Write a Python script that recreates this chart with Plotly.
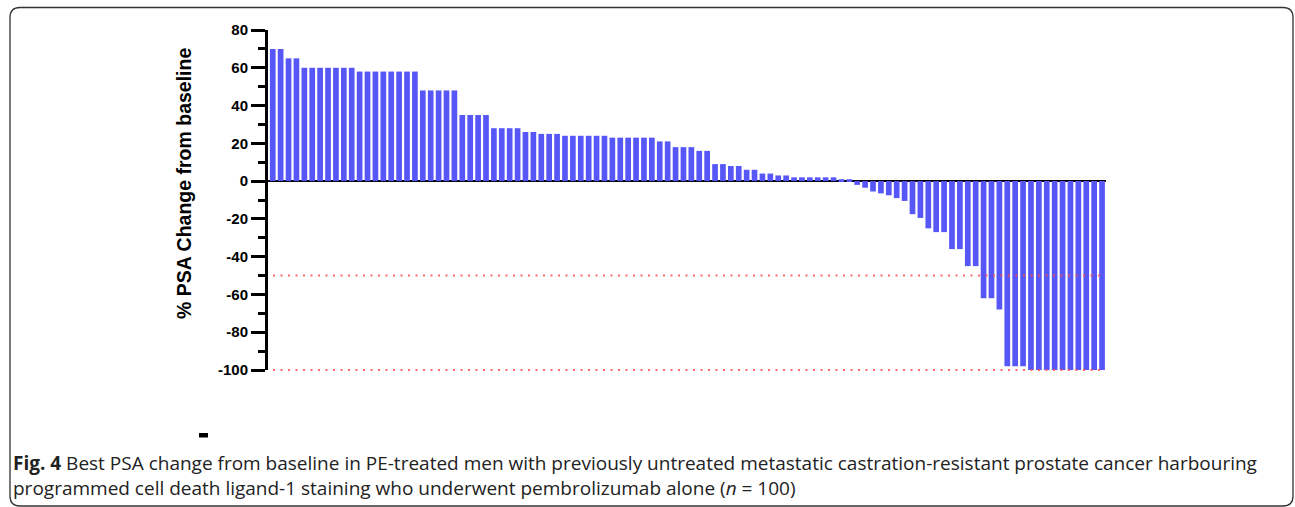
import plotly.graph_objects as go

# ---- data ----
positive_changes = [70, 70, 65, 65,
                    60, 60, 60, 60, 60, 60, 60,
                    58, 58, 58, 58, 58, 58, 58, 58,
                    48, 48, 48, 48, 48,
                    35, 35, 35, 35,
                    28, 28, 28, 28,
                    26, 26,
                    25, 25, 25,
                    24, 24, 24, 24, 24, 24,
                    23, 23, 23, 23, 23, 23,
                    21, 21,
                    18, 18, 18,
                    16, 16,
                    9, 9, 8, 8, 6, 6, 4, 4, 3, 3,
                    2, 2, 2, 2, 2, 2,
                    1, 1]
negative_changes = [-2, -3.5, -5.5, -6.5, -7.5, -9, -10.5, -17.5, -19.5, -25,
                    -27, -27, -36, -36, -45, -45, -62, -62, -68,
                    -98, -98, -98,
                    -100, -100, -100, -100, -100, -100, -100, -100, -100, -100]
psa_change = positive_changes + negative_changes
patients = list(range(len(psa_change)))

y_range = [-100, 80]
ytick_vals = [-100, -80, -60, -40, -20, 0, 20, 40, 60, 80]
ytick_text = ["-100", "-80", "-60", "-40", "-20", "0", "20", "40", "60", "80"]
threshold_lines = [-50, -100]

y_title = "% PSA Change from baseline"
caption_line1 = ("<b>Fig. 4</b> Best PSA change from baseline in PE-treated men with previously "
                 "untreated metastatic castration-resistant prostate cancer harbouring")
caption_line2 = ("programmed cell death ligand-1 staining who underwent pembrolizumab alone "
                 "(<i>n</i> = 100)")

# ---- layout geometry ----
W, H = 1295, 507
ML, MR, MT, MB = 268, 189, 30, 137
PW, PH = W - ML - MR, H - MT - MB


def px(x):
    return (x - ML) / PW


def py(y):
    return (H - MB - y) / PH


def value_to_paper(v):
    return (v - y_range[0]) / (y_range[1] - y_range[0])


fig = go.Figure()
fig.add_trace(go.Bar(x=patients, y=psa_change, marker=dict(color="#5757F7", line=dict(width=0)),
                     hoverinfo="y"))

shapes = []
for v in threshold_lines:
    yp = value_to_paper(v)
    shapes.append(dict(type="line", xref="paper", yref="paper", x0=px(273), x1=px(1103),
                       y0=yp, y1=yp,
                       line=dict(color="#FF4F4F", width=2, dash="2px,5.5px"), layer="above",
                       opacity=0.85))

# rounded border box
x0b, y0b, x1b, y1b, r = 10, 7.5, 1293, 506, 10
path = (f"M {px(x0b + r)},{py(y0b)} L {px(x1b - r)},{py(y0b)} "
        f"Q {px(x1b)},{py(y0b)} {px(x1b)},{py(y0b + r)} "
        f"L {px(x1b)},{py(y1b - r)} Q {px(x1b)},{py(y1b)} {px(x1b - r)},{py(y1b)} "
        f"L {px(x0b + r)},{py(y1b)} Q {px(x0b)},{py(y1b)} {px(x0b)},{py(y1b - r)} "
        f"L {px(x0b)},{py(y0b + r)} Q {px(x0b)},{py(y0b)} {px(x0b + r)},{py(y0b)} Z")
shapes.append(dict(type="path", xref="paper", yref="paper", path=path,
                   line=dict(color="#333333", width=1.3)))
# small dash mark
shapes.append(dict(type="rect", xref="paper", yref="paper", x0=px(199), x1=px(208),
                   y0=py(433), y1=py(437.5), fillcolor="black", line=dict(width=0)))

annotations = [
    dict(text=f"<b>{y_title}</b>", xref="paper", yref="paper", x=px(184), y=py(184),
         textangle=-90, showarrow=False, xanchor="center", yanchor="middle",
         font=dict(family="Liberation Sans, Arial", size=19.5, color="black")),
    dict(text=caption_line1, xref="paper", yref="paper", x=px(11), y=py(463),
         showarrow=False, xanchor="left", yanchor="middle",
         font=dict(family="Open Sans", size=19, color="#222222")),
    dict(text=caption_line2, xref="paper", yref="paper", x=px(11), y=py(488),
         showarrow=False, xanchor="left", yanchor="middle",
         font=dict(family="Open Sans", size=19, color="#222222")),
]

fig.update_layout(
    width=W, height=H, margin=dict(l=ML, r=MR, t=MT, b=MB, pad=0),
    paper_bgcolor="white", plot_bgcolor="white", showlegend=False,
    bargap=0.28, shapes=shapes, annotations=annotations,
    xaxis=dict(range=[-0.6, len(psa_change) - 0.5], visible=False, fixedrange=True),
    yaxis=dict(range=y_range, tickmode="array", tickvals=ytick_vals, ticktext=ytick_text,
               ticks="outside", ticklen=14, tickwidth=2.5, tickcolor="black",
               showline=True, linewidth=3, linecolor="black", showgrid=False,
               zeroline=True, zerolinecolor="black", zerolinewidth=2,
               tickfont=dict(family="Liberation Sans, Arial", size=15, color="black", weight="bold"),
               minor=dict(tickmode="linear", tick0=0, dtick=10, ticks="outside", ticklen=7,
                          tickwidth=2.5, tickcolor="black", showgrid=False),
               fixedrange=True),
)

fig.write_html("out.html")
